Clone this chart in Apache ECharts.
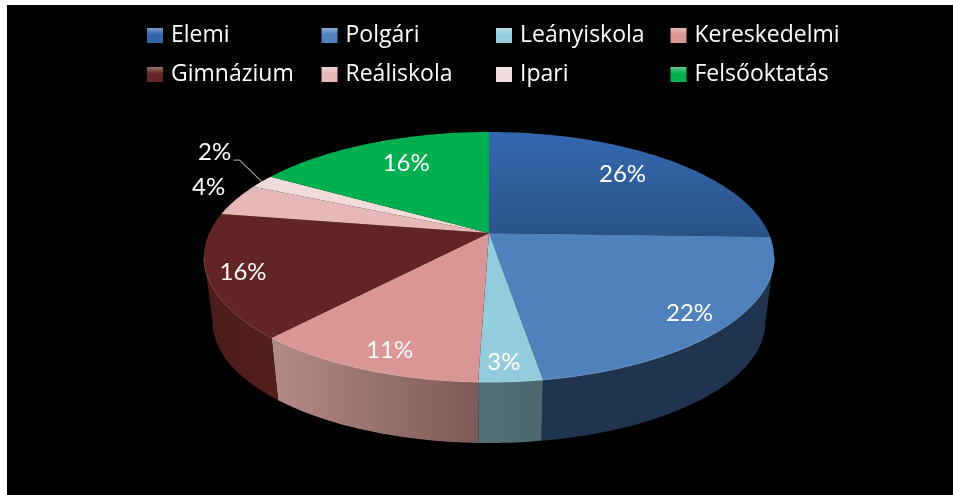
<!DOCTYPE html>
<html>
<head>
<meta charset="utf-8">
<script src="https://cdn.jsdelivr.net/npm/echarts@6/dist/echarts.min.js"></script>
<style>
  html, body { margin: 0; padding: 0; background: #fff; overflow: hidden; }
  #main { position: absolute; left: 7px; top: 5px; width: 946px; height: 490px; background: #000; }
</style>
</head>
<body>
<div id="main"></div>
<script>
const categories = ['Elemi', 'Polgári', 'Leányiskola', 'Kereskedelmi', 'Gimnázium', 'Reáliskola', 'Ipari', 'Felsőoktatás']
const shares = [25.5, 22.0, 3.0, 11.1, 16.0, 4.2, 1.8, 16.4]
const topColors = ['#3266ac', '#4f81bd', '#93cddd', '#d99694', '#632523', '#e6b9b8', '#f2dcdb', '#00b050']
const wallColors = [
  ['#2a4a75', '#2a4a75'],
  ['#20344f', '#20344f'],
  ['#527078', '#4c666e'],
  ['#b48a88', '#7c5a58'],
  ['#4b1c19', '#521f1c'],
  ['#8a6c6b', '#8a6c6b'],
  ['#8f7f7e', '#8f7f7e'],
  ['#006030', '#006030']
]
// radius fraction of the label along the mid angle, then a small pixel nudge
const labelRadius = [0.79, 0.86, 0.89, 0.88, 0.88, 1.1, 1.25, 0.74]
const labelNudge = [[-10, 1], [-2, 3], [-4, 0], [9, 1], [0, 2], [-3, -9], [4, -18], [8, -1]]

// perspective of the pie, measured on the picture
const cx = 482
const cy = 228
const radiusX = 279.7
const radiusY = 120.4
const persp = 0.192
const depth = 65.5
const bottomScale = 0.97
const visibleFrom = Math.acos(-persp)
const visibleTo = 2 * Math.PI - visibleFrom

const legendColumns = 4
const legendLeft = 135
const legendColumnStep = 174.5
const legendTop = 14
const legendRowStep = 39

const total = shares.reduce((a, b) => a + b, 0)

function rimPoint(angle, r, scale, drop) {
  const x = Math.sin(angle) * r
  const y = Math.cos(angle) * r
  const w = 1 + persp * y
  return [cx + scale * radiusX * x / w, cy + drop - scale * radiusY * y / w]
}

function arc(from, to, r, scale, drop) {
  const steps = Math.max(2, Math.ceil((to - from) / 0.02))
  const pts = []
  for (let i = 0; i <= steps; i++) {
    pts.push(rimPoint(from + (to - from) * i / steps, r, scale, drop))
  }
  return pts
}

function lighten(hex, amount) {
  const c = echarts.color.parse(hex)
  return echarts.color.stringify(c.slice(0, 3).map(v => Math.round(v + (255 - v) * amount)).concat(1), 'rgba')
}

function sliceRender(index) {
  return function (params, api) {
    const before = shares.slice(0, index).reduce((a, b) => a + b, 0)
    const start = before / total * 2 * Math.PI
    const end = (before + api.value(0)) / total * 2 * Math.PI
    const mid = (start + end) / 2
    const children = []

    const wallStart = Math.max(start, visibleFrom)
    const wallEnd = Math.min(end, visibleTo)
    if (wallEnd > wallStart) {
      const upper = arc(wallStart, wallEnd, 1, 1, 0)
      const lower = arc(wallStart, wallEnd, 1, bottomScale, depth).reverse()
      children.push({
        type: 'polygon',
        z2: 1,
        shape: { points: upper.concat(lower) },
        style: {
          // the front of the wall runs right to left as the angle grows
          fill: new echarts.graphic.LinearGradient(1, 0, 0, 0, [
            { offset: 0, color: wallColors[index][1] },
            { offset: 1, color: wallColors[index][0] }
          ])
        }
      })
    }

    const topFill = index === 0
      ? new echarts.graphic.LinearGradient(0, 0, 0, 1, [
          { offset: 0, color: '#3469b0' },
          { offset: 1, color: '#2a5287' }
        ])
      : topColors[index]
    children.push({
      type: 'polygon',
      z2: 2,
      shape: { points: [[cx, cy]].concat(arc(start, end, 1, 1, 0)) },
      style: { fill: topFill }
    })
    if (wallEnd > wallStart) {
      children.push({
        type: 'polyline',
        z2: 3,
        shape: { points: arc(wallStart, wallEnd, 1, 1, 0) },
        style: { fill: null, stroke: lighten(topColors[index], 0.18), lineWidth: 1 }
      })
    }

    const anchor = rimPoint(mid, labelRadius[index], 1, 0)
    const lx = anchor[0] + labelNudge[index][0]
    const ly = anchor[1] + labelNudge[index][1]
    children.push({
      type: 'text',
      z2: 10,
      style: {
        x: lx,
        y: ly,
        text: Math.round(api.value(0) / total * 100) + '%',
        fill: '#fff',
        font: '24px Lato',
        align: 'center',
        verticalAlign: 'middle'
      }
    })
    // only the thin Ipari slice has a leader line
    if (categories[index] === 'Ipari') {
      const rim = rimPoint(mid, 1, 1, 0)
      children.push({
        type: 'polyline',
        z2: 9,
        shape: { points: [[lx + 19, ly + 8], [lx + 25, ly + 8], rim] },
        style: { fill: null, stroke: '#969696', lineWidth: 1.2 }
      })
    }
    return { type: 'group', children: children }
  }
}

// one legend per entry so the columns stay evenly spaced
const legends = categories.map((name, i) => ({
  data: [name],
  left: legendLeft + (i % legendColumns) * legendColumnStep,
  top: legendTop + Math.floor(i / legendColumns) * legendRowStep,
  itemWidth: 16,
  itemHeight: 15,
  icon: 'rect',
  selectedMode: false,
  textStyle: { color: '#fff', fontFamily: 'Open Sans', fontSize: 23, padding: [0, 0, 0, 3] }
}))

const chart = echarts.init(document.getElementById('main'), null, { renderer: 'canvas' })
chart.setOption({
  animation: false,
  backgroundColor: '#000',
  legend: legends,
  series: categories.map((name, i) => ({
    type: 'custom',
    name: name,
    coordinateSystem: 'none',
    silent: true,
    itemStyle: {
      color: new echarts.graphic.LinearGradient(0, 0, 0, 1, [
        { offset: 0, color: lighten(topColors[i], 0.35) },
        { offset: 0.45, color: topColors[i] },
        { offset: 1, color: topColors[i] }
      ])
    },
    data: [shares[i]],
    renderItem: sliceRender(i)
  }))
})
</script>
</body>
</html>
